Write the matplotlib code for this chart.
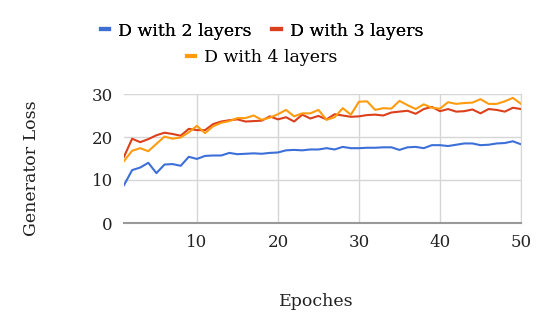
import numpy as np
import matplotlib
matplotlib.use("Agg")
import matplotlib.pyplot as plt
from matplotlib.lines import Line2D

epochs = list(range(1, 51))

loss_2 = [8.8, 12.3, 12.9, 14.0, 11.6, 13.6, 13.7, 13.3, 15.4, 14.9,
          15.6, 15.7, 15.7, 16.3, 16.0, 16.1, 16.2, 16.1, 16.3, 16.4,
          16.9, 17.0, 16.9, 17.1, 17.1, 17.4, 17.1, 17.7, 17.4, 17.4,
          17.5, 17.5, 17.6, 17.6, 17.0, 17.6, 17.7, 17.4, 18.1, 18.1,
          17.9, 18.2, 18.5, 18.5, 18.1, 18.2, 18.5, 18.6, 19.0, 18.3]

loss_3 = [15.4, 19.6, 18.8, 19.5, 20.4, 21.0, 20.7, 20.3, 21.9, 21.6,
          21.6, 23.0, 23.6, 23.9, 24.1, 23.6, 23.7, 23.8, 24.8, 24.1,
          24.6, 23.6, 25.2, 24.3, 24.9, 24.1, 25.3, 25.0, 24.7, 24.8,
          25.1, 25.2, 25.0, 25.7, 25.9, 26.1, 25.4, 26.5, 27.0, 26.0,
          26.5, 25.9, 26.0, 26.4, 25.5, 26.5, 26.3, 25.9, 26.8, 26.5]

loss_4 = [14.4, 16.8, 17.4, 16.7, 18.4, 20.1, 19.6, 19.9, 21.1, 22.6,
          20.9, 22.5, 23.3, 23.7, 24.4, 24.4, 25.0, 24.0, 24.5, 25.3,
          26.3, 24.8, 25.5, 25.5, 26.3, 24.0, 24.6, 26.7, 25.2, 28.2,
          28.3, 26.3, 26.7, 26.6, 28.4, 27.4, 26.5, 27.6, 26.8, 26.6,
          28.1, 27.7, 27.9, 28.0, 28.8, 27.7, 27.7, 28.3, 29.1, 27.7]

labels = ["D with 2 layers", "D with 3 layers", "D with 4 layers"]
colors = ["#3d6fd8", "#dc3f1c", "#ff9b0f"]

plt.rcParams['font.family'] = ['DejaVu Serif']

fig = plt.figure(figsize=(5.38, 3.33), dpi=100)
ax = fig.add_axes([124 / 538, 1 - 223 / 333, (521 - 124) / 538, (223 - 94) / 333])

for series, c in zip([loss_2, loss_3, loss_4], colors):
    ax.plot(epochs, series, color=c, lw=1.5, solid_joinstyle='round')

ax.set_xlim(1, 50)
ax.set_ylim(0, 30)
ax.set_xticks([10, 20, 30, 40, 50])
ax.set_yticks([0, 10, 20, 30])
ax.grid(True, color="#d6d6d6", lw=1)
ax.set_axisbelow(True)
for s in ["top", "left"]:
    ax.spines[s].set_visible(False)
ax.spines["right"].set_color("#d6d6d6")
ax.spines["bottom"].set_color("#999999")
ax.spines["bottom"].set_linewidth(1.5)
ax.tick_params(length=0, labelsize=12, colors="#222222", pad=8)

fig.text(31 / 538, 1 - 168 / 333, "Generator Loss", rotation=90, ha="center", va="center",
         fontsize=12.5, color="#222222")
fig.text(316 / 538, 1 - 302 / 333, "Epoches", ha="center", va="center",
         fontsize=12.5, color="#222222")

handles = [Line2D([], [], color=c, lw=3) for c in colors]
leg1 = fig.legend(handles[:2], labels[:2], ncol=2, loc="center",
                  bbox_to_anchor=(262 / 538, 1 - 31 / 333), frameon=False,
                  fontsize=12.5, handlelength=0.5, handletextpad=0.5, columnspacing=1.2)
fig.legend(handles[2:], labels[2:], loc="center",
           bbox_to_anchor=(262 / 538, 1 - 58 / 333), frameon=False,
           fontsize=12.5, handlelength=0.5, handletextpad=0.5)
fig.add_artist(leg1)

fig.savefig("out.png", dpi=100)
